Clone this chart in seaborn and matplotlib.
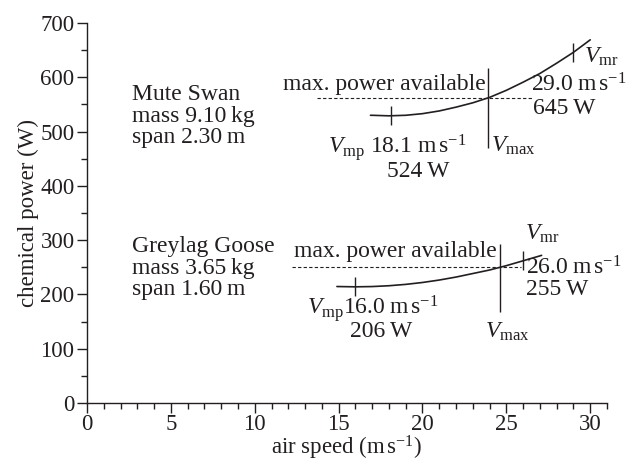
import numpy as np
import pandas as pd
import matplotlib
matplotlib.use("Agg")
import matplotlib.pyplot as plt
import seaborn as sns

# ---------------- data ----------------
swan_speed = [16.9, 17, 18, 19, 20, 21, 22, 23, 24, 25, 26, 27, 28, 29, 30]
swan_power = [530, 530, 529, 530, 533, 538, 545, 553, 563, 576, 591, 607, 626, 646, 669]
goose_speed = [14.9, 15, 16, 17, 18, 19, 20, 21, 22, 23, 24, 25, 26, 27, 27.1]
goose_power = [214.6, 214.5, 214, 214.5, 216, 218.5, 222, 226.5, 232, 238.5, 245, 253, 262, 271, 272]

species = ["Mute Swan", "Greylag Goose"]
mass_kg = ["9.10", "3.65"]
span_m = ["2.30", "1.60"]
v_mp = [18.1, 16.0]
p_mp = [524, 206]
v_mr = [29.0, 26.0]
p_mr = [645, 255]
v_max = [23.9, 24.6]
p_avail = [561, 251]

x_ticks = [0, 5, 10, 15, 20, 25, 30]
y_ticks = [0, 100, 200, 300, 400, 500, 600, 700]

# ---------------- style ----------------
sns.set_theme(style="ticks")
plt.rcParams["font.family"] = ["Liberation Serif", "DejaVu Serif"]
plt.rcParams["mathtext.fontset"] = "custom"
plt.rcParams["mathtext.rm"] = "Liberation Serif"
plt.rcParams["mathtext.it"] = "Liberation Serif:italic"
plt.rcParams["mathtext.bf"] = "Liberation Serif:bold"

INK = "#231f20"
FS = 16.5      # axis text
FA = 17.0      # annotation text

fig = plt.figure(figsize=(6.26, 4.61), dpi=100)
ax = fig.add_axes([87 / 626, (461 - 403) / 461, (607 - 87) / 626, (403 - 23) / 461])

df = pd.concat([
    pd.DataFrame({"speed": swan_speed, "power": swan_power, "bird": species[0]}),
    pd.DataFrame({"speed": goose_speed, "power": goose_power, "bird": species[1]}),
])
sns.lineplot(data=df, x="speed", y="power", hue="bird", palette=[INK, INK],
             linewidth=1.2, legend=False, ax=ax, sort=True)

curves = [(swan_speed, swan_power), (goose_speed, goose_power)]

# dashed "max power available" lines
dash_span = [(13.7, 26.5), (12.2, 25.9)]
for i in range(2):
    ax.hlines(p_avail[i], dash_span[i][0], dash_span[i][1], colors=INK,
              linestyles=(0, (3, 2)), linewidth=0.8)

# Vmax vertical lines
vmax_span = [(470, 617), (168, 293)]
for i in range(2):
    ax.vlines(v_max[i], vmax_span[i][0], vmax_span[i][1], colors=INK, linewidth=1.0)

# Vmp / Vmr tick marks on curves
half = 17.5
for i in range(2):
    sp, pw = curves[i]
    for v in (v_mp[i], v_mr[i]):
        pc = np.interp(v, sp, pw)
        ax.vlines(v, pc - half, pc + half, colors=INK, linewidth=1.0)

def txt(x, y, s, ha="left"):
    ax.text(x, y, s, ha=ha, va="baseline", fontsize=FA, color=INK)

ms = r"m$\,$s$^{-1}$"
thin = "\u2009"

# species blocks
block_base = [(558, 518, 479), (278, 238.5, 199)]
for i in range(2):
    b = block_base[i]
    txt(2.66, b[0], species[i])
    txt(2.66, b[1], f"mass {mass_kg[i]}{thin}kg")
    txt(2.66, b[2], f"span {span_m[i]}{thin}m")

# Mute swan annotations
txt(23.75, 576, "max. power available", ha="right")
txt(14.35, 460, r"$V_{\mathrm{mp}}$ " + f"{v_mp[0]:.1f} " + ms)
txt(17.9, 417, f"{p_mp[0]}{thin}W")
txt(24.1, 463, r"$V_{\mathrm{max}}$")
txt(29.6, 626, r"$V_{\mathrm{mr}}$")
txt(26.45, 574, f"{v_mr[0]:.1f}{thin}" + ms)
txt(26.6, 532, f"{p_mr[0]}{thin}W")

# Greylag annotations
txt(24.4, 269.5, "max. power available", ha="right")
txt(26.1, 300, r"$V_{\mathrm{mr}}$")
txt(26.2, 236, f"{v_mr[1]:.1f}{thin}" + ms)
txt(26.2, 199, f"{p_mr[1]}{thin}W")
txt(13.1, 163, r"$V_{\mathrm{mp}}$" + f"{v_mp[1]:.1f}{thin}" + ms)
txt(15.65, 121, f"{p_mp[1]}{thin}W")
txt(23.7, 120, r"$V_{\mathrm{max}}$")

# axes
ax.set_xlim(0, 31)
ax.set_ylim(0, 700)
ax.set_xticks(x_ticks)
ax.set_yticks(y_ticks)
ax.set_xticks(np.arange(0, 32, 1), minor=True)
ax.set_yticks(np.arange(0, 701, 50), minor=True)
ax.tick_params(axis="both", which="major", direction="out", length=7, width=1.0,
               color=INK, labelsize=FS, labelcolor=INK, pad=2)
ax.tick_params(axis="x", which="major", pad=1)
ax.tick_params(axis="both", which="minor", direction="out", length=4.5, width=1.0, color=INK)
ax.set_xlabel("air speed (" + ms + ")", fontsize=FS, color=INK, labelpad=-1)
ax.set_ylabel("chemical power (W)", fontsize=FS, color=INK, labelpad=1)
for s in ("top", "right"):
    ax.spines[s].set_visible(False)
for s in ("left", "bottom"):
    ax.spines[s].set_color(INK)
    ax.spines[s].set_linewidth(1.0)
ax.grid(False)

fig.savefig("out.png", dpi=100)
